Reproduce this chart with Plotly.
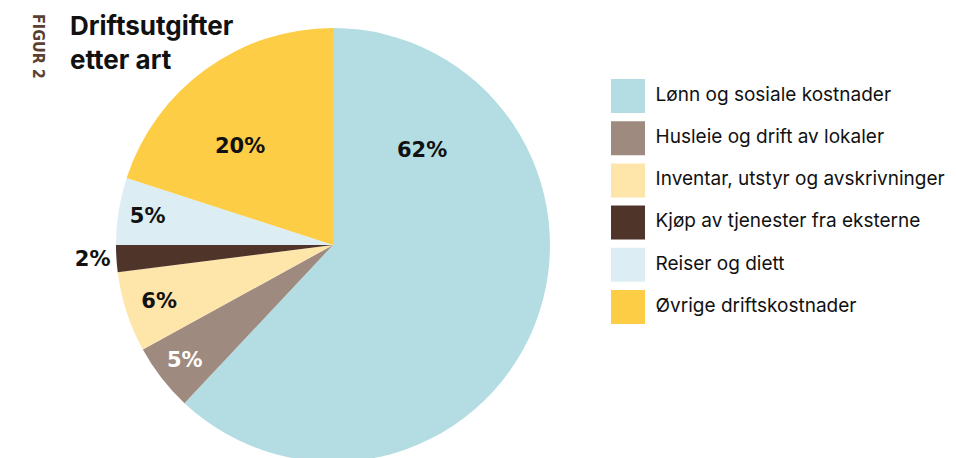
import plotly.graph_objects as go

W, H = 956, 458
OFF = 8  # page body margin in the browser

categories = [
    "Lønn og sosiale kostnader",
    "Husleie og drift av lokaler",
    "Inventar, utstyr og avskrivninger",
    "Kjøp av tjenester fra eksterne",
    "Reiser og diett",
    "Øvrige driftskostnader",
]
values = [62, 5, 6, 2, 5, 20]
colors = ["#b3dde3", "#9e8a7e", "#fee5a9", "#4f342a", "#dceef3", "#fdcd45"]
text_colors = ["#111111", "#ffffff", "#111111", "#111111", "#111111", "#111111"]
text_positions = ["none", "inside", "inside", "outside", "inside", "none"]

title_text = "Driftsutgifter<br>etter art"
figure_tag = "FIGUR 2"

pct_font = "DejaVu Sans"
body_font = "Inter"


def px(x):
    return (x - OFF) / W


def py(y):
    return 1 - (y - OFF) / H


fig = go.Figure()

fig.add_trace(go.Pie(
    labels=categories,
    values=values,
    sort=False,
    direction="clockwise",
    rotation=0,
    marker=dict(colors=colors, line=dict(width=0)),
    text=[f"{v}%" for v in values],
    textinfo="text",
    textposition=text_positions,
    insidetextorientation="horizontal",
    insidetextfont=dict(family=pct_font, size=21, color=text_colors, weight="bold"),
    outsidetextfont=dict(family=pct_font, size=21, color="#111111", weight="bold"),
    domain=dict(x=[px(8), px(658)], y=[py(462), py(28)]),
    showlegend=False,
    hoverinfo="label+percent",
))

# Legend drawn as a small scatter "key"
fig.add_trace(go.Scatter(
    x=[0] * len(categories),
    y=list(range(len(categories))),
    mode="markers+text",
    marker=dict(symbol="square", size=34, color=colors, line=dict(width=0)),
    text=[" " + c for c in categories],
    textposition="middle right",
    textfont=dict(family=body_font, size=19, color="#111111"),
    xaxis="x2",
    yaxis="y2",
    showlegend=False,
    hoverinfo="skip",
    cliponaxis=False,
))

fig.update_layout(
    width=W,
    height=H,
    margin=dict(l=0, r=0, t=0, b=0, autoexpand=False),
    paper_bgcolor="white",
    plot_bgcolor="white",
    xaxis=dict(visible=False),
    yaxis=dict(visible=False),
    xaxis2=dict(domain=[px(611), px(956)], range=[-17, 328], visible=False,
                fixedrange=True, anchor="y2"),
    yaxis2=dict(domain=[py(328), py(75)], range=[5.5, -0.5], visible=False,
                fixedrange=True, anchor="x2"),
    annotations=[
        dict(text=title_text, x=px(68), y=py(8), xref="paper", yref="paper",
             xanchor="left", yanchor="top", align="left", showarrow=False,
             font=dict(family=body_font, size=26, color="#111111", weight="bold")),
        dict(text=figure_tag, x=px(38), y=py(46), xref="paper", yref="paper",
             xanchor="center", yanchor="middle", textangle=90, showarrow=False,
             font=dict(family="DejaVu Sans Condensed, Liberation Sans Narrow", size=16,
                       color="#5b3f32", weight="bold")),
        dict(text=f"{values[0]}%", x=px(422), y=py(150), xref="paper", yref="paper",
             xanchor="center", yanchor="middle", showarrow=False,
             font=dict(family=pct_font, size=21, color=text_colors[0], weight="bold")),
        dict(text=f"{values[5]}%", x=px(240), y=py(146), xref="paper", yref="paper",
             xanchor="center", yanchor="middle", showarrow=False,
             font=dict(family=pct_font, size=21, color=text_colors[5], weight="bold")),
    ],
)

fig.write_html("out.html")
